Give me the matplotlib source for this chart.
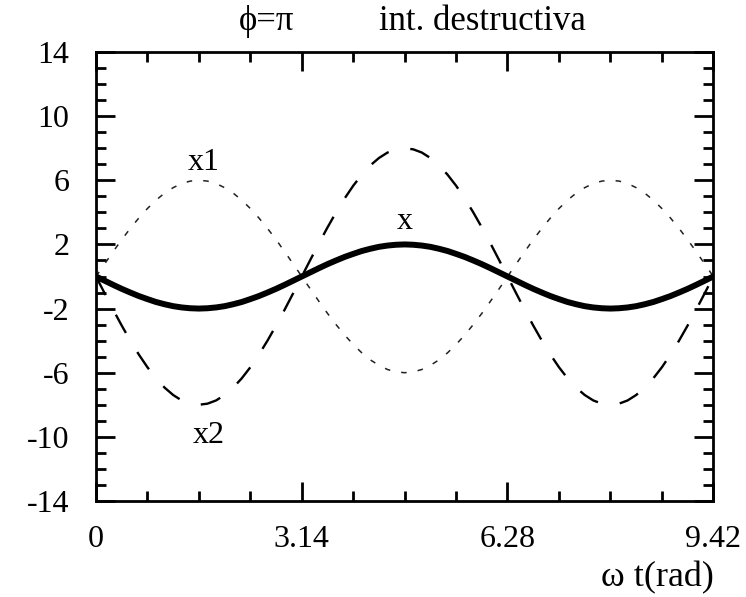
import numpy as np
import matplotlib
matplotlib.use("Agg")
import matplotlib.pyplot as plt

plt.rcParams['font.family'] = ['Liberation Serif', 'DejaVu Serif']
plt.rcParams['axes.unicode_minus'] = False
plt.rcParams['lines.scale_dashes'] = False

# sample grid: 0 .. 3*pi, step pi/24
t = np.linspace(0, 9.425, 73)
half1 = [0.0, 0.78, 1.55, 2.30, 3.0, 3.65, 4.24, 4.76, 5.20, 5.54, 5.80, 5.95,
         6.0, 5.95, 5.80, 5.54, 5.20, 4.76, 4.24, 3.65, 3.0, 2.30, 1.55, 0.78]
x1 = half1 + [-v for v in half1] + half1 + [0.0]
half2 = [0.0, -1.04, -2.07, -3.06, -4.0, -4.87, -5.66, -6.35, -6.93, -7.39, -7.73, -7.93,
         -8.0, -7.93, -7.73, -7.39, -6.93, -6.35, -5.66, -4.87, -4.0, -3.06, -2.07, -1.04]
x2 = half2 + [-v for v in half2] + half2 + [0.0]
halfx = [0.0, -0.26, -0.52, -0.77, -1.0, -1.22, -1.41, -1.59, -1.73, -1.85, -1.93, -1.98,
         -2.0, -1.98, -1.93, -1.85, -1.73, -1.59, -1.41, -1.22, -1.0, -0.77, -0.52, -0.26]
x = halfx + [-v for v in halfx] + halfx + [0.0]

xticks = [0, 3.14, 6.28, 9.42]
xticklabels = ["0", "3.14", "6.28", "9.42"]
yticks = [-14, -10, -6, -2, 2, 6, 10, 14]

fig = plt.figure(figsize=(7.46, 5.97), dpi=100)
ax = fig.add_axes([96/746, 1-501/597, (713-96)/746, (501-52)/597])

ax.plot(t, x1, color='#222222', lw=1.1, dashes=(4, 8))
ax.plot(t, x2, color='black', lw=1.7, dashes=(15, 16))
ax.plot(t, x, color='black', lw=4.3, solid_capstyle='round')

ax.set_xlim(0, 9.42)
ax.set_ylim(-14, 14)
ax.set_xticks(xticks)
ax.set_xticklabels(xticklabels)
ax.set_xticks(np.arange(0, 9.43, 3.14/4), minor=True)
ax.set_yticks(yticks)
ax.set_yticks(np.arange(-14, 15, 1), minor=True)

for s in ax.spines.values():
    s.set_linewidth(2.0)
ax.tick_params(which='both', direction='in', top=True, right=True, width=2.0,
               labelsize=23, colors='black')
ax.tick_params(which='major', length=14)
ax.tick_params(which='minor', length=7.5)
ax.tick_params(axis='x', pad=17)
ax.tick_params(axis='y', pad=19)

fs = 23
ax.text(1.65, 6.2, "x1", fontsize=fs, ha='center', va='bottom')
ax.text(1.72, -9.0, "x2", fontsize=fs, ha='center', va='top')
ax.text(4.71, 2.5, "x", fontsize=fs, ha='center', va='bottom')

fig.text(267/746, 1-22/597, "ϕ=π", fontsize=25, ha='center', va='center')
fig.text(482/746, 1-22/597, "int. destructiva", fontsize=25, ha='center', va='center')
fig.text(714/746, 1-578/597, "ω t(rad)", fontsize=26, ha='right', va='center')

fig.savefig("out.png", dpi=100)
